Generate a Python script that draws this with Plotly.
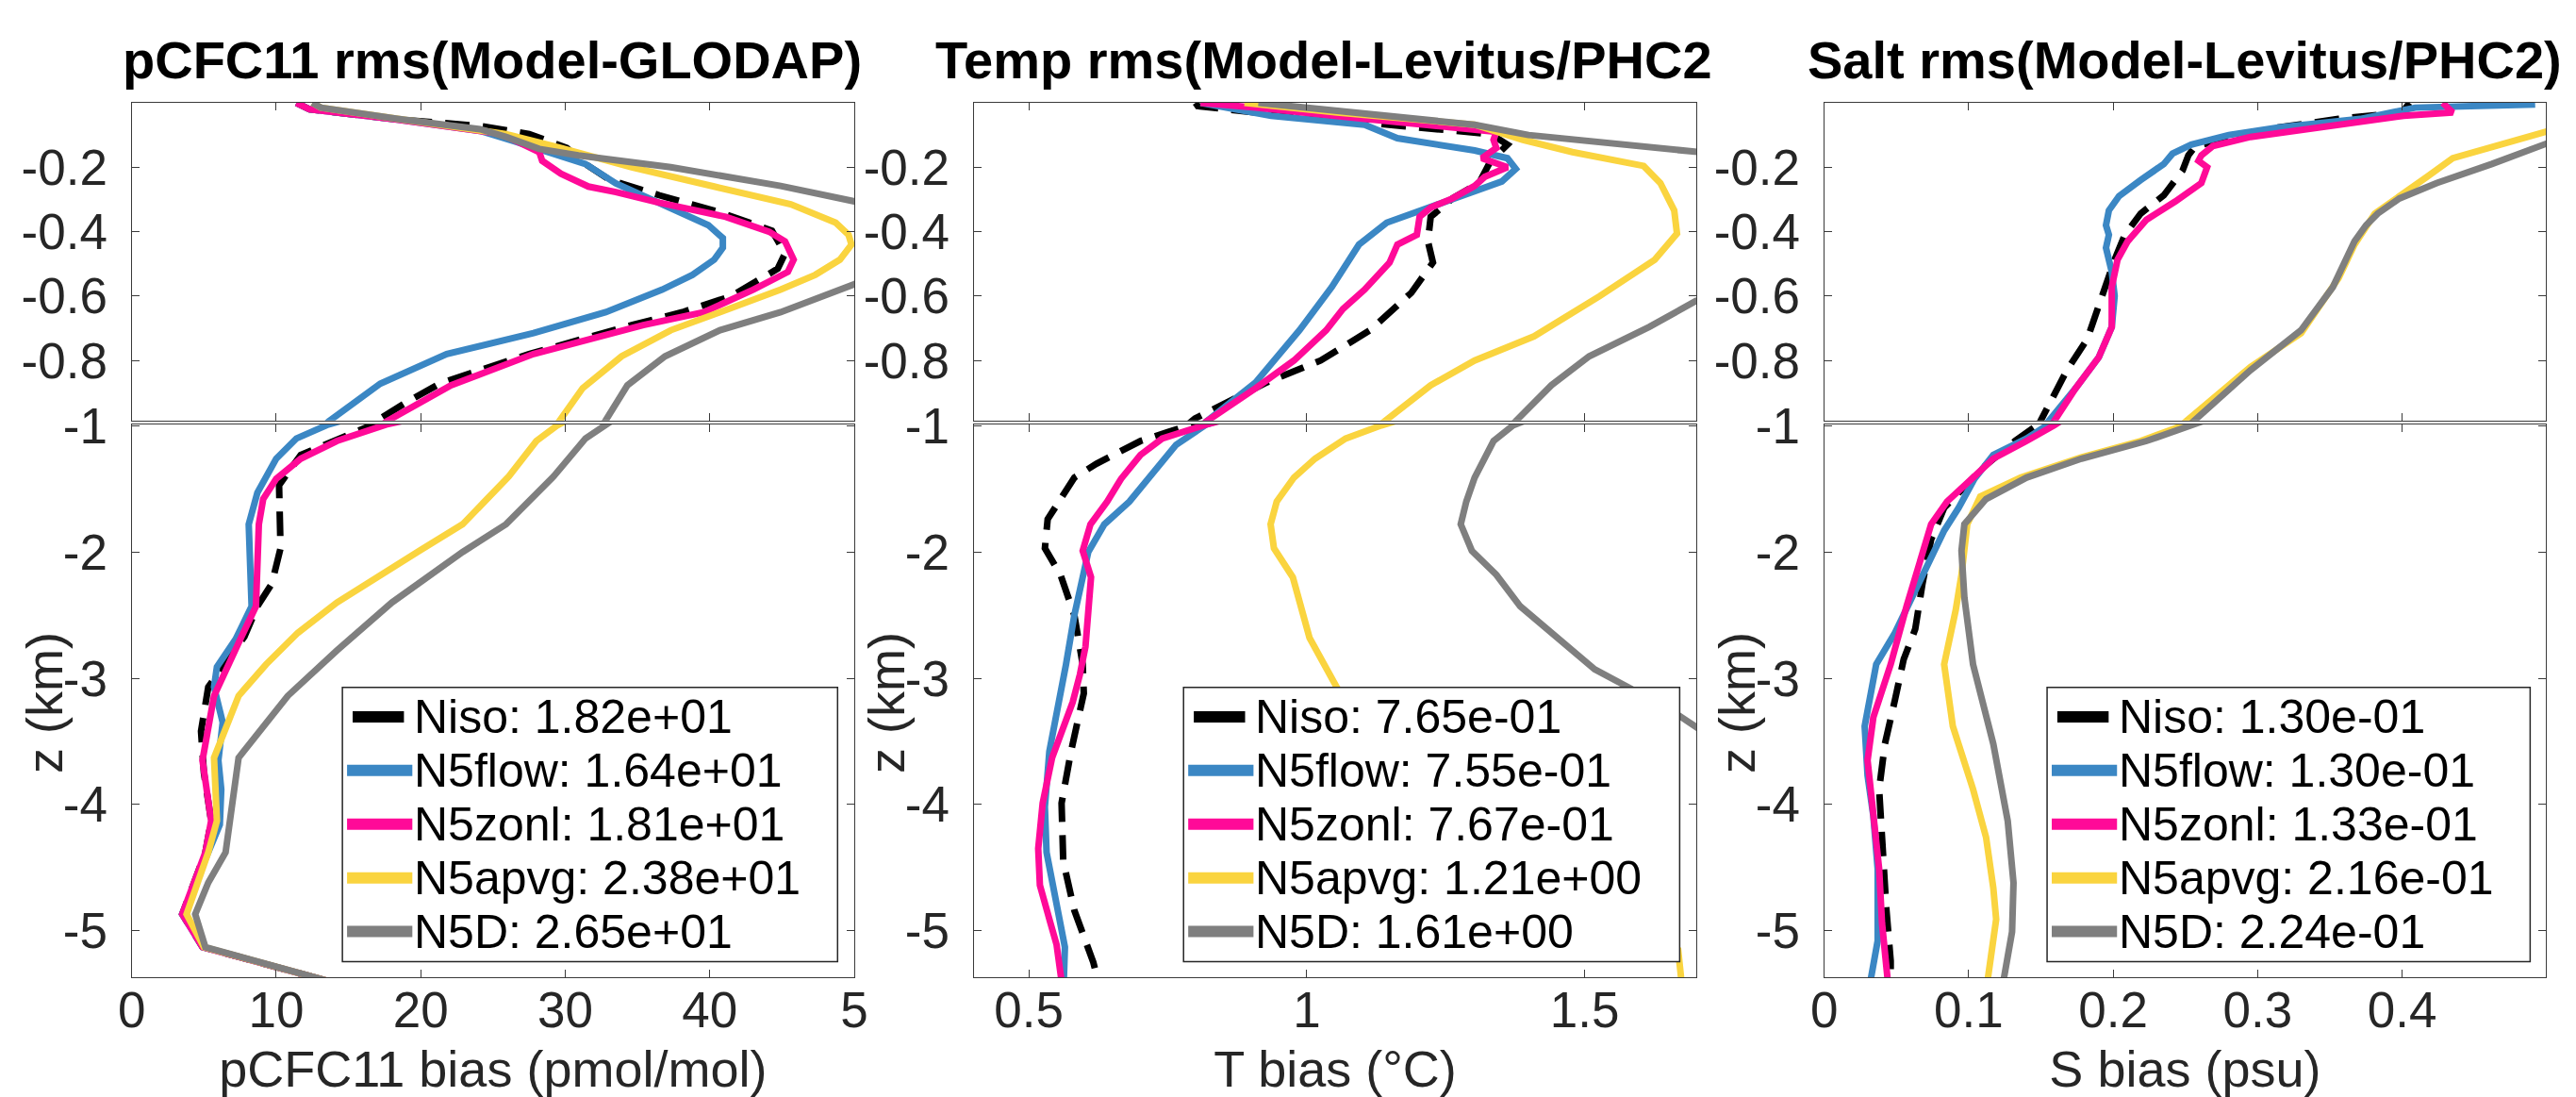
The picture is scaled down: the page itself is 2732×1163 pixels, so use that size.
import plotly.graph_objects as go

W, H = 2732, 1163
FONT = "Liberation Sans, Arial, sans-serif"
AX = "#262626"

# ---------------- data (depth in km, values per run) ----------------
series_names = ["Niso", "N5flow", "N5zonl", "N5apvg", "N5D"]
series_colors = ["#000000", "#3B87C4", "#FF0A98", "#FAD43F", "#7F7F7F"]

# pCFC11 bias (pmol/mol)
cfc_niso_z = [0, -0.02, -0.05, -0.072, -0.097, -0.14, -0.19, -0.24, -0.287, -0.34, -0.397, -0.468, -0.515,
              -0.60, -0.65, -0.69, -0.78, -0.87, -0.93, -1.0, -1.23, -1.47, -1.97, -2.25, -2.43, -2.67, -2.91,
              -3.07, -3.42, -3.75, -4.13, -4.38, -4.87, -5.13, -5.4]
cfc_niso = [11.4, 12.3, 18.0, 24.1, 27.5, 30.1, 31.4, 33.1, 36.5, 40.7, 44.3, 45.2, 44.7,
            41.5, 38.1, 34.6, 27.5, 21.4, 19.0, 16.5, 11.7, 10.2, 10.3, 9.7, 8.7, 7.8, 6.3,
            5.3, 4.8, 5.0, 5.5, 5.1, 3.5, 4.9, 13.6]
cfc_flow_z = [0, -0.02, -0.05, -0.087, -0.12, -0.163, -0.19, -0.25, -0.325, -0.38, -0.42, -0.45, -0.487,
              -0.534, -0.58, -0.65, -0.715, -0.78, -0.872, -0.99, -1.10, -1.26, -1.53, -1.78, -2.43, -2.69,
              -2.91, -3.07, -3.35, -3.65, -3.88, -4.16, -4.38, -4.87, -5.13, -5.4]
cfc_flow = [11.4, 12.3, 18.0, 24.1, 26.5, 29.7, 31.4, 33.5, 37.3, 39.9, 40.9, 40.9, 40.3,
            38.8, 36.7, 32.8, 27.8, 21.8, 17.2, 13.6, 11.4, 10.0, 8.7, 8.1, 8.3, 7.2,
            5.9, 5.7, 6.3, 6.0, 6.2, 6.1, 5.3, 3.5, 4.9, 13.6]
cfc_zonl_z = [0, -0.02, -0.05, -0.087, -0.097, -0.153, -0.18, -0.22, -0.26, -0.277, -0.31, -0.354, -0.40,
              -0.43, -0.487, -0.525, -0.58, -0.65, -0.69, -0.78, -0.877, -0.99, -1.12, -1.26, -1.42, -1.58,
              -1.78, -2.43, -2.67, -3.14, -3.65, -4.13, -4.38, -4.87, -5.13, -5.4]
cfc_zonl = [11.4, 12.3, 18.0, 24.1, 25.6, 28.2, 28.4, 29.7, 31.6, 33.5, 36.5, 41.1, 44.1,
            45.2, 45.8, 45.4, 43.0, 39.6, 35.4, 27.8, 22.1, 17.6, 14.2, 11.7, 10.0, 9.1,
            8.8, 8.6, 7.6, 5.7, 4.9, 5.5, 5.1, 3.5, 4.9, 13.6]
cfc_apvg_z = [0, -0.015, -0.05, -0.082, -0.097, -0.14, -0.20, -0.26, -0.315, -0.372, -0.41, -0.44, -0.487,
              -0.534, -0.58, -0.65, -0.706, -0.787, -0.886, -1.0, -1.12, -1.40, -1.78, -1.99, -2.40, -2.64,
              -2.89, -3.14, -3.63, -4.13, -4.38, -4.87, -5.13, -5.4]
cfc_apvg = [12.5, 13.1, 18.4, 24.1, 25.9, 29.7, 34.6, 40.3, 45.6, 48.7, 49.6, 49.8, 49.0,
            47.3, 44.9, 40.7, 37.3, 33.9, 31.2, 29.4, 28.0, 26.1, 22.9, 19.9, 14.2, 11.5,
            9.3, 7.4, 5.7, 5.9, 5.3, 3.8, 5.0, 13.6]
cfc_d_z = [0, -0.015, -0.05, -0.082, -0.106, -0.143, -0.163, -0.20, -0.258, -0.306, -0.36, -0.43, -0.50,
           -0.563, -0.65, -0.706, -0.787, -0.877, -1.0, -1.10, -1.40, -1.78, -2.0, -2.40, -2.78, -3.14,
           -3.63, -4.13, -4.38, -4.62, -4.87, -5.13, -5.4]
cfc_d = [12.5, 13.1, 18.4, 24.1, 25.9, 28.2, 30.9, 37.3, 44.9, 50.0, 53.0, 54.2, 53.0,
         50.0, 44.9, 40.7, 36.9, 34.3, 32.6, 31.4, 29.2, 25.9, 22.9, 18.0, 14.2, 10.8,
         7.4, 6.8, 6.5, 5.3, 4.4, 5.1, 13.6]
cfc_rms = [18.2, 16.4, 18.1, 23.8, 26.5]

# T bias (degC)
t_niso_z = [0, -0.01, -0.034, -0.06, -0.097, -0.13, -0.18, -0.249, -0.297, -0.354, -0.43, -0.496, -0.59,
            -0.706, -0.80, -0.868, -0.98, -1.05, -1.12, -1.30, -1.41, -1.74, -1.97, -2.18, -2.50, -2.89,
            -3.12, -3.58, -3.99, -4.45, -4.84, -5.25, -5.4]
t_niso = [0.80, 0.804, 0.928, 1.104, 1.331, 1.361, 1.331, 1.310, 1.262, 1.223, 1.218, 1.227, 1.188,
          1.114, 1.025, 0.928, 0.799, 0.750, 0.701, 0.622, 0.582, 0.534, 0.529, 0.557, 0.582, 0.597,
          0.599, 0.576, 0.559, 0.562, 0.582, 0.616, 0.625]
t_flow_z = [0, -0.04, -0.068, -0.11, -0.148, -0.172, -0.205, -0.244, -0.287, -0.334, -0.372, -0.44, -0.572,
            -0.706, -0.868, -0.99, -1.15, -1.60, -1.78, -2.0, -2.50, -2.89, -3.58, -4.02, -4.38, -4.79,
            -5.13, -5.4]
t_flow = [0.809, 0.936, 1.104, 1.163, 1.302, 1.361, 1.376, 1.351, 1.282, 1.203, 1.144, 1.094, 1.045,
          0.987, 0.908, 0.819, 0.765, 0.681, 0.636, 0.607, 0.582, 0.567, 0.537, 0.529, 0.532, 0.549,
          0.565, 0.563]
t_zonl_z = [0, -0.015, -0.05, -0.09, -0.115, -0.14, -0.172, -0.20, -0.23, -0.258, -0.297, -0.325, -0.354,
            -0.41, -0.44, -0.496, -0.58, -0.64, -0.706, -0.80, -0.886, -0.99, -1.10, -1.23, -1.42, -1.60,
            -1.78, -1.99, -2.20, -2.75, -2.97, -3.19, -3.63, -3.99, -4.35, -4.64, -4.94, -5.11, -5.4]
t_zonl = [0.809, 0.908, 1.104, 1.341, 1.336, 1.341, 1.315, 1.361, 1.320, 1.302, 1.262, 1.223, 1.203,
          1.198, 1.163, 1.149, 1.104, 1.065, 1.035, 0.977, 0.908, 0.819, 0.740, 0.701, 0.666, 0.641,
          0.611, 0.597, 0.612, 0.602, 0.592, 0.579, 0.542, 0.525, 0.517, 0.520, 0.539, 0.550, 0.559]
t_apvg_z = [0, -0.03, -0.068, -0.115, -0.153, -0.196, -0.249, -0.334, -0.406, -0.487, -0.60, -0.725, -0.80,
            -0.877, -0.997, -1.10, -1.26, -1.41, -1.60, -1.78, -1.97, -2.20, -2.68, -3.08, -3.5, -4.0,
            -4.5, -5.0, -5.15, -5.4]
t_apvg = [0.888, 1.055, 1.302, 1.389, 1.478, 1.606, 1.636, 1.661, 1.666, 1.626, 1.527, 1.409, 1.302,
          1.223, 1.134, 1.070, 1.015, 0.977, 0.946, 0.935, 0.941, 0.975, 1.005, 1.055, 1.17, 1.33,
          1.49, 1.64, 1.668, 1.674]
t_d_z = [0, -0.02, -0.05, -0.068, -0.10, -0.125, -0.153, -0.25, -0.35, -0.45, -0.55, -0.615, -0.696,
         -0.787, -0.877, -0.997, -1.12, -1.41, -1.60, -1.78, -1.99, -2.18, -2.43, -2.68, -2.93, -3.08,
         -3.30, -3.40, -4.0, -5.0, -5.4]
t_d = [0.913, 1.035, 1.203, 1.302, 1.399, 1.547, 1.705, 1.85, 1.95, 1.97, 1.85, 1.700, 1.616,
       1.508, 1.440, 1.371, 1.336, 1.302, 1.287, 1.277, 1.297, 1.341, 1.384, 1.450, 1.518, 1.582,
       1.671, 1.705, 1.82, 1.95, 1.98]
t_rms = [0.765, 0.755, 0.767, 1.21, 1.61]

# S bias (psu)
s_niso_z = [0, -0.03, -0.05, -0.077, -0.134, -0.163, -0.21, -0.287, -0.344, -0.41, -0.487, -0.62, -0.734,
            -0.83, -0.98, -1.12, -1.33, -1.65, -1.90, -2.25, -2.61, -2.85, -3.17, -3.52, -3.88, -4.30,
            -4.83, -5.24, -5.4]
s_niso = [0.405, 0.40, 0.356, 0.314, 0.257, 0.252, 0.248, 0.235, 0.219, 0.208, 0.201, 0.191, 0.182,
          0.168, 0.150, 0.132, 0.110, 0.083, 0.074, 0.068, 0.063, 0.055, 0.049, 0.042, 0.038, 0.040,
          0.043, 0.046, 0.046]
s_flow_z = [-0.005, -0.015, -0.05, -0.077, -0.10, -0.13, -0.158, -0.19, -0.24, -0.29, -0.334, -0.38, -0.41,
            -0.45, -0.525, -0.60, -0.696, -0.79, -0.886, -0.99, -1.10, -1.23, -1.42, -1.65, -1.83, -2.04,
            -2.25, -2.64, -2.89, -3.38, -3.77, -4.09, -4.51, -5.08, -5.4]
s_flow = [0.492, 0.409, 0.371, 0.314, 0.280, 0.254, 0.241, 0.235, 0.219, 0.204, 0.197, 0.195, 0.197,
          0.195, 0.199, 0.201, 0.199, 0.190, 0.174, 0.155, 0.140, 0.117, 0.104, 0.093, 0.083, 0.074,
          0.065, 0.049, 0.036, 0.028, 0.030, 0.034, 0.037, 0.037, 0.032]
s_zonl_z = [0, -0.03, -0.04, -0.077, -0.106, -0.134, -0.163, -0.18, -0.20, -0.249, -0.306, -0.363, -0.43,
            -0.487, -0.572, -0.696, -0.79, -0.886, -0.997, -1.12, -1.26, -1.41, -1.60, -1.78, -2.11, -2.43,
            -2.89, -3.31, -3.65, -4.09, -4.51, -4.94, -5.4]
s_zonl = [0.428, 0.435, 0.401, 0.345, 0.295, 0.269, 0.261, 0.259, 0.265, 0.261, 0.243, 0.223, 0.210,
          0.203, 0.199, 0.199, 0.190, 0.174, 0.159, 0.140, 0.117, 0.103, 0.085, 0.074, 0.065, 0.057,
          0.046, 0.034, 0.030, 0.034, 0.038, 0.040, 0.044]
s_apvg_z = [0, -0.05, -0.09, -0.13, -0.172, -0.23, -0.287, -0.344, -0.44, -0.544, -0.715, -0.82, -0.99,
            -1.12, -1.25, -1.41, -1.56, -1.78, -2.18, -2.46, -2.89, -3.38, -3.88, -4.26, -4.66, -4.91, -5.4]
s_apvg = [0.57, 0.53, 0.502, 0.466, 0.435, 0.417, 0.398, 0.381, 0.367, 0.356, 0.330, 0.295, 0.250,
          0.219, 0.178, 0.136, 0.108, 0.099, 0.095, 0.091, 0.083, 0.089, 0.103, 0.112, 0.117, 0.119, 0.113]
s_d_z = [0, -0.06, -0.123, -0.19, -0.249, -0.297, -0.344, -0.38, -0.43, -0.572, -0.706, -0.83, -0.997,
         -1.12, -1.26, -1.41, -1.58, -1.78, -1.99, -2.36, -2.89, -3.52, -4.13, -4.62, -5.01, -5.4]
s_d = [0.60, 0.55, 0.502, 0.462, 0.424, 0.398, 0.383, 0.375, 0.367, 0.352, 0.330, 0.295, 0.254,
       0.223, 0.178, 0.140, 0.112, 0.097, 0.095, 0.097, 0.103, 0.117, 0.127, 0.131, 0.130, 0.124]
s_rms = [0.130, 0.130, 0.133, 0.216, 0.224]

top_yticks = [-0.8, -0.6, -0.4, -0.2]
bottom_yticks = [-5, -4, -3, -2, -1]

panels = [
    dict(title="pCFC11 rms(Model-GLODAP)", xtitle="pCFC11 bias (pmol/mol)",
         xrange=[0, 50], xticks=[0, 10, 20, 30, 40, 50], xticktext=["0", "10", "20", "30", "40", "5"],
         profiles=[(cfc_niso, cfc_niso_z), (cfc_flow, cfc_flow_z), (cfc_zonl, cfc_zonl_z),
                   (cfc_apvg, cfc_apvg_z), (cfc_d, cfc_d_z)], rms=cfc_rms),
    dict(title="Temp rms(Model-Levitus/PHC2", xtitle="T bias (°C)",
         xrange=[0.401, 1.701], xticks=[0.5, 1, 1.5], xticktext=["0.5", "1", "1.5"],
         profiles=[(t_niso, t_niso_z), (t_flow, t_flow_z), (t_zonl, t_zonl_z),
                   (t_apvg, t_apvg_z), (t_d, t_d_z)], rms=t_rms),
    dict(title="Salt rms(Model-Levitus/PHC2)", xtitle="S bias (psu)",
         xrange=[0, 0.4995], xticks=[0, 0.1, 0.2, 0.3, 0.4], xticktext=["0", "0.1", "0.2", "0.3", "0.4"],
         profiles=[(s_niso, s_niso_z), (s_flow, s_flow_z), (s_zonl, s_zonl_z),
                   (s_apvg, s_apvg_z), (s_d, s_d_z)], rms=s_rms),
]

# ---------------- layout geometry (pixels) ----------------
col_left = [126, 1029, 1941]
col_right = [901, 1804, 2715]
title_cx = [513, 1404, 2328]
top_px, brk_top_px, brk_bot_px, bottom_px = 83, 428, 432, 1033
z_break = -0.986
legend_left = [352, 1254, 2180]
legend_right = [883, 1786, 2698]
legend_top, legend_bottom = 718, 1016


def fx(px):
    return px / W


def fy(py):
    return 1 - py / H


fig = go.Figure()

axis_style = dict(showline=True, linecolor="#3a3a3a", linewidth=1.2, mirror="ticks", ticks="inside",
                  ticklen=8, tickwidth=1.2, tickcolor="#3a3a3a", showgrid=False, zeroline=False,
                  tickfont=dict(family=FONT, size=53, color=AX))

layout = {}
annotations = []
shapes = []
for c, p in enumerate(panels):
    nb, nt = 2 * c + 1, 2 * c + 2
    dom_x = [fx(col_left[c]), fx(col_right[c])]

    for i, (vals, z) in enumerate(p["profiles"]):
        line = dict(color=series_colors[i], width=7)
        if i == 0:
            line["dash"] = "26px,14px"
        for n in (nb, nt):
            fig.add_trace(go.Scatter(x=vals, y=z, mode="lines", line=line, name=series_names[i],
                                     xaxis=f"x{n}", yaxis=f"y{n}", showlegend=False))

    # bottom panel (deep ocean)
    layout[f"xaxis{nb}"] = dict(axis_style, domain=dom_x, anchor=f"y{nb}", range=p["xrange"],
                                tickvals=p["xticks"], ticktext=p["xticktext"], ticklabelstandoff=-12,
                                title=dict(text=p["xtitle"], standoff=22,
                                           font=dict(family=FONT, size=54, color=AX)))
    layout[f"yaxis{nb}"] = dict(axis_style, domain=[fy(bottom_px), fy(brk_bot_px)], anchor=f"x{nb}",
                                range=[-5.37, z_break], tickvals=bottom_yticks,
                                ticktext=[f"{v}" for v in bottom_yticks], ticklabelstandoff=14)
    # top panel (upper 1 km, stretched)
    layout[f"xaxis{nt}"] = dict(axis_style, domain=dom_x, anchor=f"y{nt}", range=p["xrange"],
                                tickvals=p["xticks"], showticklabels=False)
    layout[f"yaxis{nt}"] = dict(axis_style, domain=[fy(brk_top_px), fy(top_px)], anchor=f"x{nt}",
                                range=[z_break, 0], tickvals=top_yticks,
                                ticktext=[f"{v}" for v in top_yticks], ticklabelstandoff=14)

    annotations.append(dict(text=p["title"], x=fx(title_cx[c]), y=fy(36), xref="paper", yref="paper",
                            xanchor="center", yanchor="middle", showarrow=False,
                            font=dict(family=FONT, size=56, color="#000000", weight="bold")))
    # depth label of the lower panel
    annotations.append(dict(text="z (km)", x=fx(col_left[c] - 93), y=fy(735), xref="paper", yref="paper",
                            xanchor="center", yanchor="middle", textangle=-90, showarrow=False,
                            font=dict(family=FONT, size=54, color=AX)))

    # legend box drawn in the MATLAB style (long, thick samples)
    L, R = legend_left[c], legend_right[c]
    shapes.append(dict(type="rect", xref="paper", yref="paper", x0=fx(L), x1=fx(R),
                       y0=fy(legend_bottom), y1=fy(legend_top), fillcolor="white",
                       line=dict(color=AX, width=1.5), layer="above"))
    for i, name in enumerate(series_names):
        yc = legend_top + 32 + 58.3 * i
        x0, x1 = (L + 11, L + 66) if i == 0 else (L + 5, L + 75)
        shapes.append(dict(type="line", xref="paper", yref="paper", x0=fx(x0), x1=fx(x1),
                           y0=fy(yc), y1=fy(yc), line=dict(color=series_colors[i], width=12),
                           layer="above"))
        annotations.append(dict(text=f"{name}: {p['rms'][i]:.2e}", x=fx(L + 75), y=fy(yc),
                                xref="paper", yref="paper", xanchor="left", yanchor="middle",
                                showarrow=False, font=dict(family=FONT, size=50, color="#000000")))

fig.update_layout(**layout)
fig.update_layout(width=W, height=H, margin=dict(l=0, r=0, t=0, b=0), plot_bgcolor="white",
                  paper_bgcolor="white", annotations=annotations, shapes=shapes,
                  font=dict(family=FONT, color=AX))

fig.write_html("out.html", config={"displayModeBar": False},
               post_script="document.body.style.margin='0';document.body.style.overflow='hidden';")
